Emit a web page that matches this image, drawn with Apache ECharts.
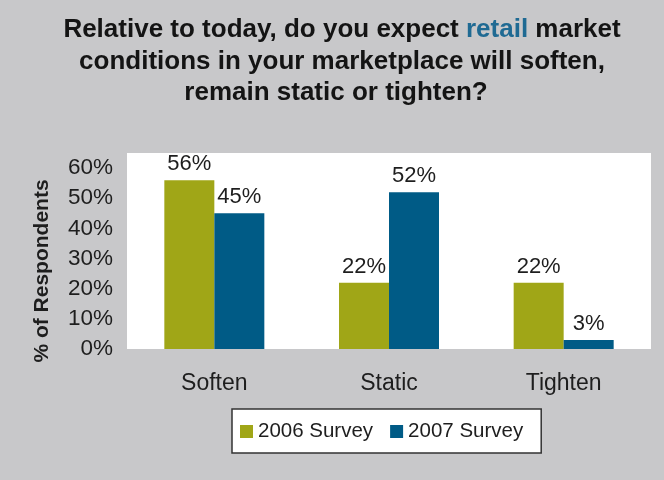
<!DOCTYPE html>
<html>
<head>
<meta charset="utf-8">
<style>
  html, body { margin: 0; padding: 0; background: #c8c8ca; }
  #chart { width: 664px; height: 480px; }
</style>
<script src="https://cdn.jsdelivr.net/npm/echarts@6/dist/echarts.min.js"></script>
</head>
<body>
<div id="chart"></div>
<script>
// Survey outlook on retail market conditions
const categories = ['Soften', 'Static', 'Tighten'];
const survey2006 = [56, 22, 22];
const survey2007 = [45, 52, 3];
const seriesNames = ['2006 Survey', '2007 Survey'];
const yTicks = [0, 10, 20, 30, 40, 50, 60];

const FONT = '"Liberation Sans", Arial, Helvetica, sans-serif';
const INK = '#1e1e1e';
const GREEN = '#a0a617';
const BLUE = '#005b86';

const chart = echarts.init(document.getElementById('chart'), null, { renderer: 'canvas' });

const titleStyle = { fontFamily: FONT, fontSize: 26, fontWeight: 'bold', fill: '#141414' };

// centred heading line helper
function headingLine(x, y, style) {
  return {
    type: 'text', x: x, y: y,
    style: Object.assign({ align: 'center', verticalAlign: 'middle' }, style)
  };
}

const barLabel = {
  show: true,
  position: 'top',
  distance: 5,
  formatter: p => p.value + '%',
  fontFamily: FONT,
  fontSize: 22,
  color: INK
};

chart.setOption({
  backgroundColor: '#c8c8ca',
  animation: false,
  graphic: [
    headingLine(342, 30, {
      text: '{a|Relative to today, do you expect }{b|retail}{a| market}',
      rich: {
        a: { fontFamily: FONT, fontSize: 26, fontWeight: 'bold', fill: '#141414' },
        b: { fontFamily: FONT, fontSize: 26, fontWeight: 'bold', fill: '#1f6a93' }
      }
    }),
    headingLine(342, 62, Object.assign({ text: 'conditions in your marketplace will soften,' }, titleStyle)),
    headingLine(336, 93, Object.assign({ text: 'remain static or tighten?' }, titleStyle)),
    {
      type: 'text',
      x: 42, y: 271,
      rotation: Math.PI / 2,
      style: {
        text: '% of Respondents',
        fontFamily: FONT, fontSize: 21, fontWeight: 'bold', fill: INK,
        align: 'center', verticalAlign: 'middle'
      }
    }
  ],
  legend: {
    left: 232, top: 409,
    backgroundColor: '#ffffff',
    borderColor: '#333333',
    borderWidth: 1.5,
    borderRadius: 0,
    padding: [12, 18, 11, 8],
    itemWidth: 13, itemHeight: 13,
    itemGap: 17,
    icon: 'rect',
    data: seriesNames,
    textStyle: { fontFamily: FONT, fontSize: 20.5, color: INK }
  },
  grid: {
    left: 127, right: 13, top: 153, bottom: 131,
    show: true,
    backgroundColor: '#ffffff',
    borderWidth: 0
  },
  xAxis: {
    type: 'category',
    data: categories,
    axisLine: { show: false },
    axisTick: { show: false },
    axisLabel: { margin: 23, fontFamily: FONT, fontSize: 23, color: INK }
  },
  yAxis: {
    type: 'value',
    min: yTicks[0], max: 65, interval: 10,
    splitLine: { show: false },
    axisLine: { show: false },
    axisTick: { show: false },
    axisLabel: {
      margin: 14,
      showMaxLabel: false,
      formatter: v => (yTicks.indexOf(v) >= 0 ? v + '%' : ''),
      fontFamily: FONT, fontSize: 22.5, color: INK
    }
  },
  series: [
    {
      name: seriesNames[0], type: 'bar',
      data: survey2006,
      barWidth: 50, barGap: '0%',
      itemStyle: { color: GREEN },
      label: barLabel
    },
    {
      name: seriesNames[1], type: 'bar',
      data: survey2007,
      barWidth: 50, barGap: '0%',
      itemStyle: { color: BLUE },
      label: barLabel
    }
  ]
});
</script>
</body>
</html>
